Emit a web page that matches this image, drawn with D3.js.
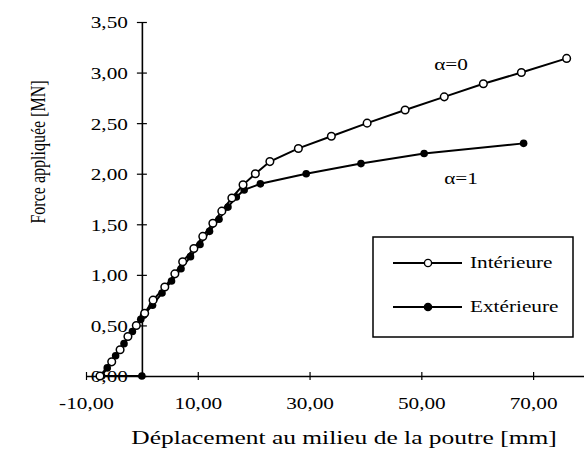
<!DOCTYPE html>
<html>
<head>
<meta charset="utf-8">
<script src="https://cdn.jsdelivr.net/npm/d3@7"></script>
<style>
  html, body { margin: 0; padding: 0; background: #fff; }
  svg { display: block; }
  text { font-family: "Liberation Serif", "Times New Roman", serif; fill: #000; }
</style>
</head>
<body>
<svg id="chart" width="584" height="457"></svg>
<script>
// Load–deflection curves, mid-span of the beam
const interiorX = [-7.5, -5.4, -3.9, -2.5, -1.0, 0.5, 2.0, 4.1, 5.9, 7.3, 9.3, 10.9, 12.7, 14.3, 16.1, 18.1, 20.3, 22.9, 28.0, 33.9, 40.3, 47.1, 54.1, 61.1, 67.9, 76.0];
const interiorY = [0.00, 0.14, 0.26, 0.39, 0.50, 0.62, 0.75, 0.88, 1.01, 1.13, 1.26, 1.38, 1.51, 1.63, 1.76, 1.89, 2.00, 2.12, 2.25, 2.37, 2.50, 2.63, 2.76, 2.89, 3.00, 3.14];

const exteriorX = [0.0, -7.2, -6.2, -4.7, -3.2, -1.7, -0.2, 0.3, 1.9, 3.6, 5.3, 7.0, 8.7, 10.4, 12.1, 13.8, 15.4, 16.9, 18.3, 21.2, 29.4, 39.2, 50.5, 68.3];
const exteriorY = [0.00, 0.00, 0.08, 0.20, 0.32, 0.44, 0.56, 0.60, 0.70, 0.82, 0.94, 1.06, 1.18, 1.30, 1.43, 1.55, 1.67, 1.77, 1.84, 1.90, 2.00, 2.10, 2.20, 2.30];

const xTicks = [-10, 10, 30, 50, 70];
const yTicks = [0, 0.5, 1.0, 1.5, 2.0, 2.5, 3.0, 3.5];

const seriesNames = ["Intérieure", "Extérieure"];
const curveLabels = ["α=0", "α=1"];
const xTitle = "Déplacement au milieu de la poutre [mm]";
const yTitle = "Force appliquée [MN]";

// horizontal widening of the serif lettering
const sx = 1.25;

const svg = d3.select("#chart");

const x = d3.scaleLinear().domain([-10, 80]).range([86, 589]);
const y = d3.scaleLinear().domain([0, 3.5]).range([376, 22]);

const fmt = d => d.toFixed(2).replace(".", ",");

// x axis
const gx = svg.append("g")
  .attr("transform", `translate(0,${y(0)})`)
  .call(d3.axisBottom(x).tickValues(xTicks).tickFormat(fmt).tickSizeOuter(0));
gx.select(".domain").attr("stroke", "#000").attr("stroke-width", 1.6);
gx.selectAll(".tick line").attr("y1", -4).attr("y2", 4).attr("stroke", "#000").attr("stroke-width", 1.2);
gx.selectAll(".tick text")
  .attr("y", null).attr("dy", null)
  .attr("transform", `translate(0,33) scale(${sx},1)`)
  .attr("text-anchor", "middle")
  .attr("font-family", "Liberation Serif")
  .attr("font-size", 17);

// y axis
const gy = svg.append("g")
  .attr("transform", `translate(${x(0)},0)`)
  .call(d3.axisLeft(y).tickValues(yTicks).tickFormat(fmt).tickSizeOuter(0));
gy.select(".domain").attr("stroke", "#000").attr("stroke-width", 1.6);
gy.selectAll(".tick line").attr("x1", 5).attr("x2", -5).attr("stroke", "#000").attr("stroke-width", 1.2);
gy.selectAll(".tick text")
  .attr("x", null).attr("dy", "0.35em")
  .attr("transform", `translate(-14,0) scale(${sx},1)`)
  .attr("text-anchor", "end")
  .attr("font-family", "Liberation Serif")
  .attr("font-size", 17);

// curves
const line = d3.line().x(d => x(d[0])).y(d => y(d[1]));
const interior = interiorX.map((v, i) => [v, interiorY[i]]);
const exterior = exteriorX.map((v, i) => [v, exteriorY[i]]);

svg.append("path").datum(exterior)
  .attr("d", line).attr("fill", "none").attr("stroke", "#000").attr("stroke-width", 2);
svg.append("g").selectAll("circle").data(exterior).join("circle")
  .attr("cx", d => x(d[0])).attr("cy", d => y(d[1])).attr("r", 3.8).attr("fill", "#000");

svg.append("path").datum(interior)
  .attr("d", line).attr("fill", "none").attr("stroke", "#000").attr("stroke-width", 2);
svg.append("g").selectAll("circle").data(interior).join("circle")
  .attr("cx", d => x(d[0])).attr("cy", d => y(d[1])).attr("r", 3.8)
  .attr("fill", "#fff").attr("stroke", "#000").attr("stroke-width", 1.5);

// curve annotations
svg.append("text").attr("transform", `translate(451,70) scale(${sx},1)`)
  .attr("text-anchor", "middle").attr("font-size", 17).text(curveLabels[0]);
svg.append("text").attr("transform", `translate(461,184) scale(${sx},1)`)
  .attr("text-anchor", "middle").attr("font-size", 17).text(curveLabels[1]);

// legend
const lg = svg.append("g");
lg.append("rect").attr("x", 373).attr("y", 237).attr("width", 200).attr("height", 100)
  .attr("fill", "#fff").attr("stroke", "#000").attr("stroke-width", 1.5);
const rows = [263, 307];
rows.forEach((ry, i) => {
  lg.append("line").attr("x1", 393).attr("x2", 462).attr("y1", ry).attr("y2", ry)
    .attr("stroke", "#000").attr("stroke-width", 1.8);
  lg.append("circle").attr("cx", 428).attr("cy", ry).attr("r", 3.6)
    .attr("fill", i === 0 ? "#fff" : "#000").attr("stroke", "#000").attr("stroke-width", 1.4);
  lg.append("text").attr("transform", `translate(470,${ry + 5}) scale(${sx},1)`)
    .attr("font-size", 17).text(seriesNames[i]);
});

// axis titles
svg.append("text").attr("transform", "translate(344,444) scale(1.34,1)")
  .attr("text-anchor", "middle").attr("font-size", 19).text(xTitle);
svg.append("text").attr("transform", `translate(45,152) rotate(-90) scale(1,${sx})`)
  .attr("text-anchor", "middle").attr("font-size", 16).text(yTitle);
</script>
</body>
</html>
